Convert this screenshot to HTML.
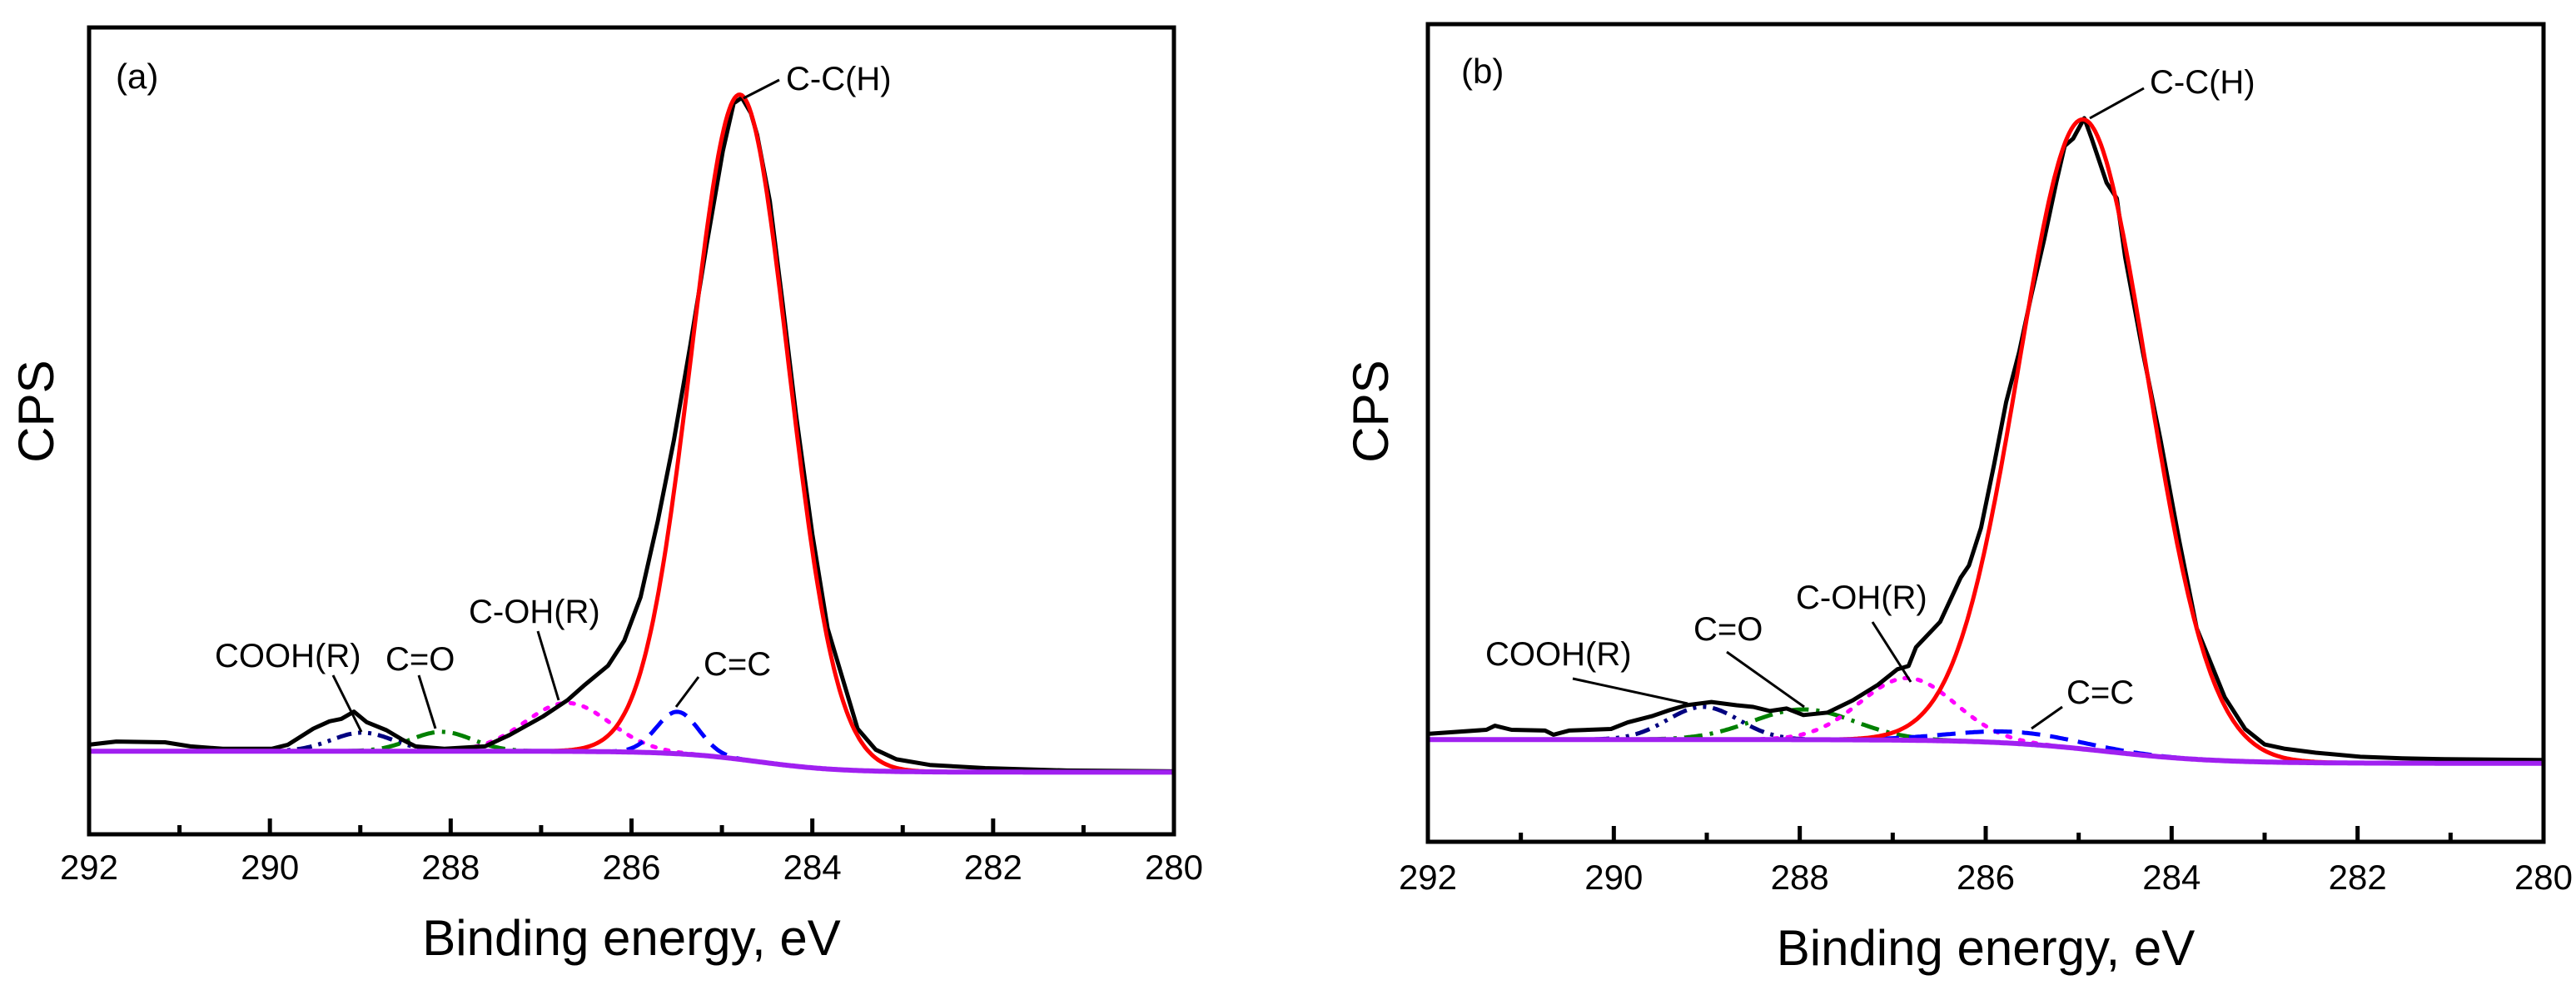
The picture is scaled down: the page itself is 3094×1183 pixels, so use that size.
<!DOCTYPE html>
<html><head><meta charset="utf-8"><style>
html,body{margin:0;padding:0;background:#fff;}
svg{display:block;font-family:"Liberation Sans",Arial,sans-serif;}
</style></head><body>
<svg id="fig" width="3094" height="1183" viewBox="0 0 3094 1183"></svg>
<script>
// ---------- Panel (a) data ----------
const aExpE = [292,291.70,291.16,290.88,290.52,289.98,289.80,289.52,289.34,289.21,289.07,288.93,288.71,288.53,288.39,288.07,287.62,287.35,286.98,286.71,286.53,286.26,286.08,285.90,285.71,285.53,285.35,285.17,284.99,284.87,284.78,284.68,284.61,284.47,284.33,284.18,284.0,283.83,283.5,283.3,283.07,282.7,282.09,281.18,280];
const aExpI = [11.1,11.5,11.4,10.9,10.6,10.6,11.1,13.1,14.0,14.3,15.2,13.9,12.9,11.7,10.9,10.6,10.9,12.3,14.6,16.6,18.4,20.9,24.0,29.4,38.8,48.9,60.6,73.0,84.7,90.6,91.3,89.4,86.7,78.5,66.0,52.0,37.2,25.5,13.1,10.5,9.3,8.6,8.2,7.9,7.8];
const aPeakNames = ["C-C(H)","C=C","C-OH(R)","C=O","COOH(R)"];
const aPeakCenter = [284.8,285.49,286.71,288.1,288.98];
const aPeakHeight = [82.4,5.2,6.0,2.4,2.3];
const aPeakFwhm = [1.26,0.55,1.1,0.8,0.8];
const aBgHigh = 10.3, aBgLow = 7.7, aBgCenter = 284.6, aBgWidth = 0.45;

// ---------- Panel (b) data ----------
const bExpE = [292,291.37,291.28,291.10,290.74,290.65,290.48,290.03,289.85,289.58,289.40,289.22,288.95,288.68,288.50,288.32,288.14,287.96,287.70,287.43,287.16,286.95,286.83,286.75,286.49,286.27,286.18,286.05,285.91,285.78,285.64,285.51,285.37,285.24,285.15,285.06,284.94,284.86,284.70,284.59,284.50,284.31,284.12,283.92,283.73,283.43,283.21,283.0,282.79,282.45,281.97,281.52,281.07,280];
const bExpI = [13.2,13.7,14.2,13.7,13.6,13.1,13.6,13.8,14.6,15.4,16.1,16.7,17.1,16.7,16.5,16.0,16.3,15.5,15.8,17.3,19.2,21.1,21.5,23.8,26.9,32.3,33.8,38.4,46.1,53.8,59.9,66.8,73.7,80.7,85.1,86.0,88.5,86.0,80.6,78.7,71.5,59.9,49.2,36.9,26.1,17.7,13.8,11.9,11.4,10.9,10.4,10.2,10.1,10.0];
const bPeakNames = ["C-C(H)","C=C","C-OH(R)","C=O","COOH(R)"];
const bPeakCenter = [284.95,285.7,286.84,287.96,289.04];
const bPeakHeight = [77.0,1.4,7.6,3.7,4.0];
const bPeakFwhm = [1.62,1.6,1.2,1.3,0.9];
const bBgHigh = 12.5, bBgLow = 9.6, bBgCenter = 284.7, bBgWidth = 0.6;

const xTicks = [292,290,288,286,284,282,280];
const xMinor = [291,289,287,285,283,281];

const NS = "http://www.w3.org/2000/svg";
const svg = document.getElementById('fig');
function mk(tag, attrs, parent){ const e=document.createElementNS(NS,tag); for(const k in attrs) e.setAttribute(k,attrs[k]); (parent||svg).appendChild(e); return e; }

const styles = [
 {color:"#ff0000", dash:"", w:5},
 {color:"#0000ff", dash:"22,12", w:5},
 {color:"#ff00ff", dash:"4,12", w:5},
 {color:"#008000", dash:"22,9,4,9", w:5},
 {color:"#000080", dash:"18,8,4,8,4,8", w:5}
];

function drawPanel(p){
  const g = mk('g',{});
  
  
  const X = e => p.left + (292-e)/12*(p.right-p.left);
  const Y = v => p.bottom - v/100*(p.bottom-p.top);
  const bg = e => p.bgLow + (p.bgHigh-p.bgLow)/(1+Math.exp(-(e-p.bgC)/p.bgW));
  const grid=[]; for(let i=0;i<=600;i++) grid.push(292-i*0.02);
  for(let k=p.centers.length-1;k>=1;k--){
    const s = p.fwhm[k]/2.3548;
    let d='';
    grid.forEach((e,i)=>{ const v=bg(e)+p.heights[k]*Math.exp(-0.5*((e-p.centers[k])/s)**2); d+=(i?'L':'M')+X(e).toFixed(1)+','+Y(v).toFixed(1); });
    const st=styles[k];
    const path=mk('path',{d:d,fill:'none',stroke:st.color,'stroke-width':st.w,'stroke-dasharray':st.dash,'stroke-linecap':k==2?'round':'butt','stroke-linejoin':'round'},g);
    
    
  }
  let d='';
  p.expE.forEach((e,i)=>{ d+=(i?'L':'M')+X(e).toFixed(1)+','+Y(p.expI[i]).toFixed(1); });
  const ex=mk('path',{d:d,fill:'none',stroke:'#000','stroke-width':5,'stroke-linejoin':'round'},g);
  
  
  { const s=p.fwhm[0]/2.3548; let d2='';
    grid.forEach((e,i)=>{ const v=bg(e)+p.heights[0]*Math.exp(-0.5*((e-p.centers[0])/s)**2); d2+=(i?'L':'M')+X(e).toFixed(1)+','+Y(v).toFixed(1); });
    const r=mk('path',{d:d2,fill:'none',stroke:'#ff0000','stroke-width':5,'stroke-linejoin':'round'},g);
    
     }
  let db='';
  grid.forEach((e,i)=>{ db+=(i?'L':'M')+X(e).toFixed(1)+','+Y(bg(e)).toFixed(1); });
  const b=mk('path',{d:db,fill:'none',stroke:'#a020f0','stroke-width':6},g);
  
  
  const fr=mk('rect',{x:p.left,y:p.top,width:p.right-p.left,height:p.bottom-p.top,fill:'none',stroke:'#000','stroke-width':5},g);
  
  
  xTicks.forEach(t=>{
    const l=mk('line',{x1:X(t),x2:X(t),y1:p.bottom,y2:p.bottom-19,stroke:'#000','stroke-width':5},g);
    
    
    const tx=mk('text',{x:X(t),y:p.tickY,'font-size':42,'text-anchor':'middle'},g);
    tx.textContent=t;
    
    
  });
  xMinor.forEach(t=>{
    const l=mk('line',{x1:X(t),x2:X(t),y1:p.bottom,y2:p.bottom-11,stroke:'#000','stroke-width':5},g);
    
    
  });
  const xt=mk('text',{x:(p.left+p.right)/2,y:p.xTitleY,'font-size':60,'text-anchor':'middle'},g);
  xt.textContent='Binding energy, eV';
  
  
  const yt=mk('text',{x:0,y:0,'font-size':60,'text-anchor':'middle',transform:'translate('+p.yTitleX+','+p.yTitleY+') rotate(-90)'},g);
  yt.textContent='CPS';
  
  
  const pl=mk('text',{x:p.labelX,y:p.labelY,'font-size':42},g);
  pl.textContent=p.tag;
  
  
  p.ann.forEach(a=>{
    const t=mk('text',{x:a[1],y:a[2],'font-size':40},g);
    t.textContent=a[0];
    
    
    const l=mk('line',{x1:a[3],y1:a[4],x2:a[5],y2:a[6],stroke:'#000','stroke-width':3},g);
    
    
  });
}

drawPanel({id:'panel-a',tag:'(a)',left:107,right:1410,top:33,bottom:1002,
  expE:aExpE,expI:aExpI,names:aPeakNames,centers:aPeakCenter,heights:aPeakHeight,fwhm:aPeakFwhm,
  bgHigh:aBgHigh,bgLow:aBgLow,bgC:aBgCenter,bgW:aBgWidth,
  tickY:1056,xTitleY:1147,yTitleX:64,yTitleY:494,labelX:139,labelY:106,
  ann:[["C-C(H)",944,108,893,118,936,96],["COOH(R)",258,801,400,811,434,879],["C=O",463,805,503,811,523,875],
       ["C-OH(R)",563,748,646,758,671,841],["C=C",845,811,839,813,812,849]]});
drawPanel({id:'panel-b',tag:'(b)',left:1715,right:3055,top:29,bottom:1011,
  expE:bExpE,expI:bExpI,names:bPeakNames,centers:bPeakCenter,heights:bPeakHeight,fwhm:bPeakFwhm,
  bgHigh:bBgHigh,bgLow:bBgLow,bgC:bBgCenter,bgW:bBgWidth,
  tickY:1068,xTitleY:1159,yTitleX:1667,yTitleY:494,labelX:1755,labelY:100,
  ann:[["C-C(H)",2582,112,2510,142,2575,106],["C-OH(R)",2157,731,2249,747,2295,819],["C=O",2034,769,2074,783,2167,849],
       ["COOH(R)",1784,799,1889,815,2027,845],["C=C",2482,845,2477,849,2440,875]]});
</script>
</body></html>
